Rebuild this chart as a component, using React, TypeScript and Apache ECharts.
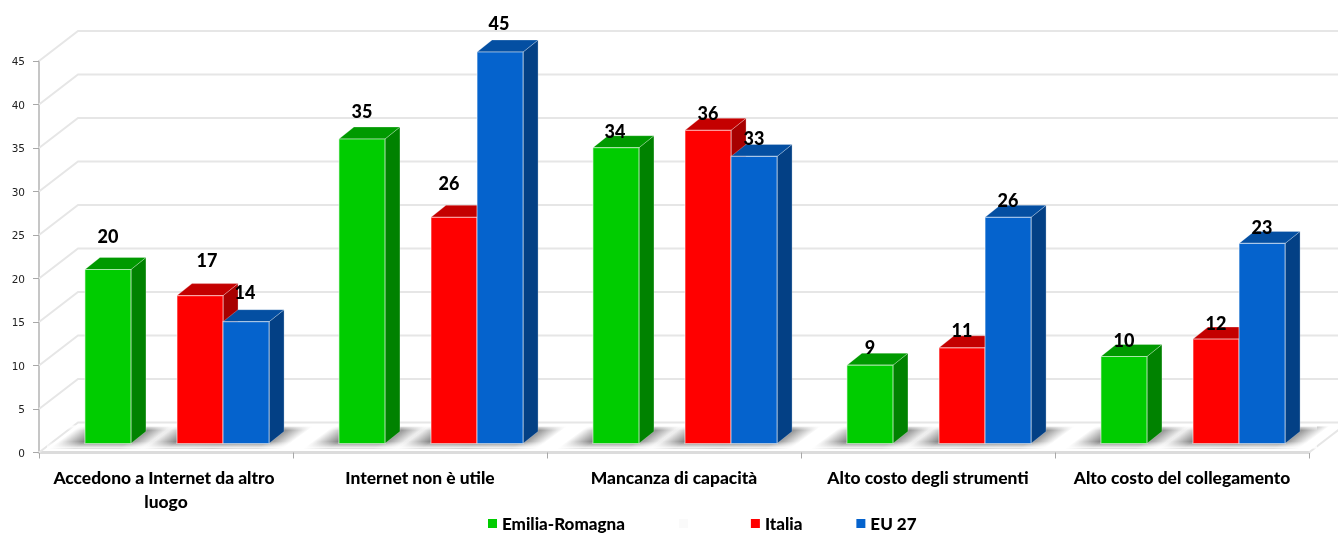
import React, { useEffect, useRef } from "react";
import * as echarts from "echarts";

const categories = [
  "Accedono a Internet da altro luogo",
  "Internet non è utile",
  "Mancanza di capacità",
  "Alto costo degli strumenti",
  "Alto costo del collegamento",
];
const yTicks = [0, 5, 10, 15, 20, 25, 30, 35, 40, 45];
const emiliaRomagna = [20, 35, 34, 9, 10];
const blankSeries: number[] = [];
const italia = [17, 26, 36, 11, 12];
const eu27 = [14, 45, 33, 26, 23];

const FONT = "Lato, 'Noto Sans', sans-serif";
const DEPTH_X = 39;
const DEPTH_Y = 30;
const FRONT_X = 11;
const FRONT_Y = 9;
const SIDE_X = 15;
const SIDE_Y = 12;
const SLOT = 46 / 253.8;

const palette = [
  { face: "#00cc00", top: "#009a00", side: "#008200" },
  { face: "#ffffff", top: "#ffffff", side: "#ffffff" },
  { face: "#ff0000", top: "#c40000", side: "#a80000" },
  { face: "#0563cd", top: "#044fa2", side: "#034085" },
];

// distance of each printed number above its bar, and its sideways nudge
const labelLift = [
  [34, 28, 17, 18, 16.5],
  [],
  [36, 34, 17, 18, 16],
  [30, 29, 18, 17, 16.5],
];
const labelNudge = [
  [0, 0, -1, 0, 0],
  [],
  [7, -5, 0, 0, 0],
  [-1, -1, 0, 0, 0],
];

function barX(cx: number, band: number, s: number) {
  return cx + FRONT_X + (s - 2) * band * SLOT;
}

function renderWalls(params: any, api: any) {
  const v = api.value(0);
  const sys = params.coordSys;
  const p = api.coord([0, v]);
  const left = sys.x;
  const right = sys.x + sys.width;
  const y = p[1];
  const color = "#e6e6e6";
  const children: any[] = [
    {
      type: "polyline",
      shape: {
        points: [
          [left, y],
          [left + DEPTH_X, y - DEPTH_Y],
          [right + DEPTH_X, y - DEPTH_Y],
        ],
      },
      style: { stroke: color, lineWidth: 2, fill: "none" },
    },
  ];
  if (v === 0) {
    children.push({
      type: "line",
      shape: { x1: right, y1: y, x2: right + DEPTH_X, y2: y - DEPTH_Y },
      style: { stroke: color, lineWidth: 2 },
    });
  }
  return { type: "group", children };
}

function renderShadow(s: number) {
  return (_params: any, api: any) => {
    const base = api.coord([api.value(0), 0]);
    const band = api.size([1, 0])[0];
    const w = band * SLOT;
    const x = barX(base[0], band, s);
    const yBottom = base[1] - 4;
    const yTop = base[1] - 26;
    const grey = "rgba(120,120,120,";
    return {
      type: "polygon",
      shape: {
        points: [
          [x - 36, yBottom],
          [x + w + 14, yBottom],
          [x + w + 44, yTop],
          [x - 6, yTop],
        ],
      },
      style: {
        fill: new echarts.graphic.LinearGradient(0, 1, 0.721, 1.172, [
          { offset: 0, color: grey + "0)" },
          { offset: 0.27, color: grey + "0.9)" },
          { offset: 0.73, color: grey + "0.9)" },
          { offset: 1, color: grey + "0)" },
        ]),
      },
    };
  };
}

function renderFloorFade(_params: any, api: any) {
  const sys = _params.coordSys;
  const base = api.coord([0, 0]);
  const y = base[1];
  const white0 = "rgba(255,255,255,0)";
  const mk = (y1: number, y2: number, from: string, to: string) => ({
    type: "rect",
    shape: { x: sys.x + 8, y: y1, width: sys.width, height: y2 - y1 },
    style: {
      fill: new echarts.graphic.LinearGradient(0, 0, 0, 1, [
        { offset: 0, color: from },
        { offset: 1, color: to },
      ]),
    },
  });
  return {
    type: "group",
    children: [mk(y - 27, y - 22, "#ffffff", white0), mk(y - 11, y - 4, white0, "#ffffff")],
  };
}

function renderBar(s: number) {
  return (_params: any, api: any) => {
    const cat = api.value(0);
    const val = api.value(1);
    const base = api.coord([cat, 0]);
    const top = api.coord([cat, val]);
    const band = api.size([1, 0])[0];
    const w = band * SLOT;
    const x = barX(base[0], band, s);
    const yB = base[1] - FRONT_Y;
    const yT = top[1] - FRONT_Y;
    const c = palette[s];
    const edge = "rgba(255,255,255,0.5)";
    return {
      type: "group",
      children: [
        {
          type: "polygon",
          shape: {
            points: [
              [x + w, yT],
              [x + w + SIDE_X, yT - SIDE_Y],
              [x + w + SIDE_X, yB - SIDE_Y],
              [x + w, yB],
            ],
          },
          style: { fill: c.side, stroke: "rgba(255,255,255,0.25)", lineWidth: 1 },
        },
        {
          type: "polygon",
          shape: {
            points: [
              [x, yT],
              [x + SIDE_X, yT - SIDE_Y],
              [x + w + SIDE_X, yT - SIDE_Y],
              [x + w, yT],
            ],
          },
          style: { fill: c.top, stroke: "rgba(255,255,255,0.25)", lineWidth: 1 },
        },
        {
          type: "rect",
          shape: { x, y: yT, width: w, height: yB - yT },
          style: { fill: c.face, stroke: edge, lineWidth: 1.2 },
        },
      ],
    };
  };
}

function renderLabel(_params: any, api: any) {
  const s = api.value(2);
  const cat = api.value(0);
  const val = api.value(1);
  const lift = api.value(3);
  const nudge = api.value(4);
  const base = api.coord([cat, 0]);
  const top = api.coord([cat, val]);
  const band = api.size([1, 0])[0];
  const x = barX(base[0], band, s) + (band * SLOT) / 2 + nudge;
  return {
    type: "text",
    style: {
      x,
      y: top[1] - FRONT_Y - lift,
      text: String(val),
      fill: "#000000",
      font: `900 18px ${FONT}`,
      align: "center",
      verticalAlign: "middle",
    },
  };
}

const seriesValues = [emiliaRomagna, blankSeries, italia, eu27];
const seriesNames = ["Emilia-Romagna", " ", "Italia", "EU 27"];
const legendColors = ["#00cc00", "#fafafa", "#ff0000", "#0563cd"];

export default function App() {
  const ref = useRef<HTMLDivElement>(null);
  useEffect(() => {
    if (!ref.current) return;
    const chart = echarts.init(ref.current, undefined, { renderer: "svg" });

    const labelRows: number[][] = [];
    seriesValues.forEach((vals, s) =>
      vals.forEach((v, i) => labelRows.push([i, v, s, labelLift[s][i], labelNudge[s][i]]))
    );
    const shadowData = categories.map((_, i) => [i]);

    chart.setOption({
      animation: false,
      backgroundColor: "#ffffff",
      grid: { left: 39, right: 29, top: 61, bottom: 80.5 },
      xAxis: {
        type: "category",
        data: categories,
        axisLine: { show: true, lineStyle: { color: "#dcdcdc", width: 3 } },
        axisTick: { show: true, length: 6, lineStyle: { color: "#a8a8a8", width: 1 } },
        axisLabel: {
          color: "#000000",
          fontFamily: FONT,
          fontWeight: 900,
          fontSize: 17.4,
          lineHeight: 24,
          margin: 13,
          interval: 0,
          width: 236,
          overflow: "break",
        },
        splitLine: { show: false },
      },
      yAxis: {
        type: "value",
        min: 0,
        max: 45,
        interval: 5,
        axisLine: { show: true, lineStyle: { color: "#c6c6c6", width: 2 } },
        axisTick: { show: true, length: 6, lineStyle: { color: "#a8a8a8", width: 1 } },
        axisLabel: {
          color: "#222222",
          fontFamily: "'DejaVu Sans', sans-serif",
          fontSize: 10.5,
          margin: 14,
        },
        splitLine: { show: false },
      },
      legend: {
        left: 488,
        top: 515,
        padding: 0,
        itemWidth: 9,
        itemHeight: 9,
        itemGap: 54,
        icon: "rect",
        selectedMode: false,
        textStyle: { color: "#000000", fontFamily: FONT, fontWeight: 900, fontSize: 17 },
        data: seriesNames.map((name, i) => ({ name, itemStyle: { color: legendColors[i] } })),
      },
      series: [
        {
          type: "custom",
          name: "walls",
          renderItem: renderWalls,
          data: yTicks.map((v) => [v]),
          encode: { y: 0 },
          silent: true,
          z: 1,
        },
        ...[0, 2, 3].map((s) => ({
          type: "custom",
          name: "shadow" + s,
          renderItem: renderShadow(s),
          data: shadowData,
          encode: { x: 0 },
          silent: true,
          z: 1,
        })),
        {
          type: "custom",
          name: "fade",
          renderItem: renderFloorFade,
          data: [[0]],
          encode: { x: 0 },
          silent: true,
          z: 1,
        },
        ...seriesValues.map((vals, s) => ({
          type: "custom",
          name: seriesNames[s],
          renderItem: renderBar(s),
          data: vals.map((v, i) => [i, v]),
          encode: { x: 0, y: 1 },
          itemStyle: { color: legendColors[s] },
          silent: true,
          z: 3,
        })),
        {
          type: "custom",
          name: "labels",
          renderItem: renderLabel,
          data: labelRows,
          encode: { x: 0, y: 1 },
          silent: true,
          z: 4,
        },
      ],
    });
    return () => chart.dispose();
  }, []);
  return (
    <div
      ref={ref}
      style={{ position: "fixed", left: 0, top: 0, width: 1338, height: 533, filter: "blur(0.4px)" }}
    />
  );
}
